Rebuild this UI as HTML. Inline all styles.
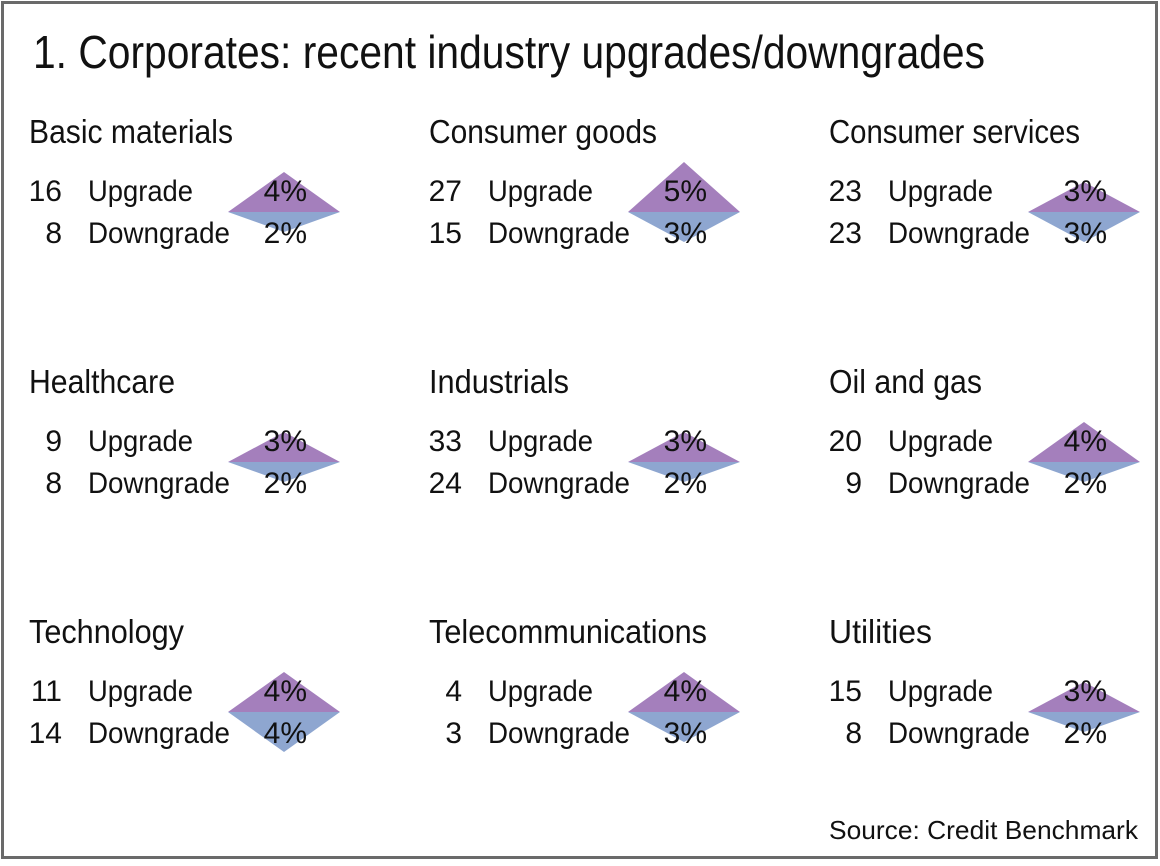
<!DOCTYPE html>
<html><head><meta charset="utf-8"><style>
html,body{margin:0;padding:0;background:#fff}
svg{display:block}
text{font-family:"Liberation Sans",sans-serif;fill:#111}
</style></head><body>
<svg width="1160" height="866" viewBox="0 0 1160 866" xmlns="http://www.w3.org/2000/svg">
<rect x="2.5" y="2.5" width="1154" height="855" fill="#fff" stroke="#6a6a6a" stroke-width="3"/>
<text x="33" y="68" font-size="46" textLength="952" lengthAdjust="spacingAndGlyphs">1. Corporates: recent industry upgrades/downgrades</text>
<text x="829" y="839" font-size="26" textLength="309" lengthAdjust="spacingAndGlyphs">Source: Credit Benchmark</text>

<g transform="translate(0,0)">
<polygon points="228,212 340,212 284,172" fill="#a47fbc"/><polygon points="228,212 340,212 284,232" fill="#8ea6d0"/>
<text x="29" y="143" font-size="33" textLength="204" lengthAdjust="spacingAndGlyphs">Basic materials</text>
<text x="62" y="201" font-size="30" text-anchor="end">16</text><text x="88" y="201" font-size="30" textLength="105" lengthAdjust="spacingAndGlyphs">Upgrade</text><text x="307" y="201" font-size="30" text-anchor="end">4%</text>
<text x="62" y="243" font-size="30" text-anchor="end">8</text><text x="88" y="243" font-size="30" textLength="142" lengthAdjust="spacingAndGlyphs">Downgrade</text><text x="307" y="243" font-size="30" text-anchor="end">2%</text>
</g>
<g transform="translate(400,0)">
<polygon points="228,212 340,212 284,162" fill="#a47fbc"/><polygon points="228,212 340,212 284,242" fill="#8ea6d0"/>
<text x="29" y="143" font-size="33" textLength="228" lengthAdjust="spacingAndGlyphs">Consumer goods</text>
<text x="62" y="201" font-size="30" text-anchor="end">27</text><text x="88" y="201" font-size="30" textLength="105" lengthAdjust="spacingAndGlyphs">Upgrade</text><text x="307" y="201" font-size="30" text-anchor="end">5%</text>
<text x="62" y="243" font-size="30" text-anchor="end">15</text><text x="88" y="243" font-size="30" textLength="142" lengthAdjust="spacingAndGlyphs">Downgrade</text><text x="307" y="243" font-size="30" text-anchor="end">3%</text>
</g>
<g transform="translate(800,0)">
<polygon points="228,212 340,212 284,182" fill="#a47fbc"/><polygon points="228,212 340,212 284,242" fill="#8ea6d0"/>
<text x="29" y="143" font-size="33" textLength="251" lengthAdjust="spacingAndGlyphs">Consumer services</text>
<text x="62" y="201" font-size="30" text-anchor="end">23</text><text x="88" y="201" font-size="30" textLength="105" lengthAdjust="spacingAndGlyphs">Upgrade</text><text x="307" y="201" font-size="30" text-anchor="end">3%</text>
<text x="62" y="243" font-size="30" text-anchor="end">23</text><text x="88" y="243" font-size="30" textLength="142" lengthAdjust="spacingAndGlyphs">Downgrade</text><text x="307" y="243" font-size="30" text-anchor="end">3%</text>
</g>
<g transform="translate(0,250)">
<polygon points="228,212 340,212 284,182" fill="#a47fbc"/><polygon points="228,212 340,212 284,232" fill="#8ea6d0"/>
<text x="29" y="143" font-size="33" textLength="146" lengthAdjust="spacingAndGlyphs">Healthcare</text>
<text x="62" y="201" font-size="30" text-anchor="end">9</text><text x="88" y="201" font-size="30" textLength="105" lengthAdjust="spacingAndGlyphs">Upgrade</text><text x="307" y="201" font-size="30" text-anchor="end">3%</text>
<text x="62" y="243" font-size="30" text-anchor="end">8</text><text x="88" y="243" font-size="30" textLength="142" lengthAdjust="spacingAndGlyphs">Downgrade</text><text x="307" y="243" font-size="30" text-anchor="end">2%</text>
</g>
<g transform="translate(400,250)">
<polygon points="228,212 340,212 284,182" fill="#a47fbc"/><polygon points="228,212 340,212 284,232" fill="#8ea6d0"/>
<text x="29" y="143" font-size="33" textLength="140" lengthAdjust="spacingAndGlyphs">Industrials</text>
<text x="62" y="201" font-size="30" text-anchor="end">33</text><text x="88" y="201" font-size="30" textLength="105" lengthAdjust="spacingAndGlyphs">Upgrade</text><text x="307" y="201" font-size="30" text-anchor="end">3%</text>
<text x="62" y="243" font-size="30" text-anchor="end">24</text><text x="88" y="243" font-size="30" textLength="142" lengthAdjust="spacingAndGlyphs">Downgrade</text><text x="307" y="243" font-size="30" text-anchor="end">2%</text>
</g>
<g transform="translate(800,250)">
<polygon points="228,212 340,212 284,172" fill="#a47fbc"/><polygon points="228,212 340,212 284,232" fill="#8ea6d0"/>
<text x="29" y="143" font-size="33" textLength="153" lengthAdjust="spacingAndGlyphs">Oil and gas</text>
<text x="62" y="201" font-size="30" text-anchor="end">20</text><text x="88" y="201" font-size="30" textLength="105" lengthAdjust="spacingAndGlyphs">Upgrade</text><text x="307" y="201" font-size="30" text-anchor="end">4%</text>
<text x="62" y="243" font-size="30" text-anchor="end">9</text><text x="88" y="243" font-size="30" textLength="142" lengthAdjust="spacingAndGlyphs">Downgrade</text><text x="307" y="243" font-size="30" text-anchor="end">2%</text>
</g>
<g transform="translate(0,500)">
<polygon points="228,212 340,212 284,172" fill="#a47fbc"/><polygon points="228,212 340,212 284,252" fill="#8ea6d0"/>
<text x="29" y="143" font-size="33" textLength="155" lengthAdjust="spacingAndGlyphs">Technology</text>
<text x="62" y="201" font-size="30" text-anchor="end">11</text><text x="88" y="201" font-size="30" textLength="105" lengthAdjust="spacingAndGlyphs">Upgrade</text><text x="307" y="201" font-size="30" text-anchor="end">4%</text>
<text x="62" y="243" font-size="30" text-anchor="end">14</text><text x="88" y="243" font-size="30" textLength="142" lengthAdjust="spacingAndGlyphs">Downgrade</text><text x="307" y="243" font-size="30" text-anchor="end">4%</text>
</g>
<g transform="translate(400,500)">
<polygon points="228,212 340,212 284,172" fill="#a47fbc"/><polygon points="228,212 340,212 284,242" fill="#8ea6d0"/>
<text x="29" y="143" font-size="33" textLength="278" lengthAdjust="spacingAndGlyphs">Telecommunications</text>
<text x="62" y="201" font-size="30" text-anchor="end">4</text><text x="88" y="201" font-size="30" textLength="105" lengthAdjust="spacingAndGlyphs">Upgrade</text><text x="307" y="201" font-size="30" text-anchor="end">4%</text>
<text x="62" y="243" font-size="30" text-anchor="end">3</text><text x="88" y="243" font-size="30" textLength="142" lengthAdjust="spacingAndGlyphs">Downgrade</text><text x="307" y="243" font-size="30" text-anchor="end">3%</text>
</g>
<g transform="translate(800,500)">
<polygon points="228,212 340,212 284,182" fill="#a47fbc"/><polygon points="228,212 340,212 284,232" fill="#8ea6d0"/>
<text x="29" y="143" font-size="33" textLength="103" lengthAdjust="spacingAndGlyphs">Utilities</text>
<text x="62" y="201" font-size="30" text-anchor="end">15</text><text x="88" y="201" font-size="30" textLength="105" lengthAdjust="spacingAndGlyphs">Upgrade</text><text x="307" y="201" font-size="30" text-anchor="end">3%</text>
<text x="62" y="243" font-size="30" text-anchor="end">8</text><text x="88" y="243" font-size="30" textLength="142" lengthAdjust="spacingAndGlyphs">Downgrade</text><text x="307" y="243" font-size="30" text-anchor="end">2%</text>
</g>
</svg>
</body></html>
